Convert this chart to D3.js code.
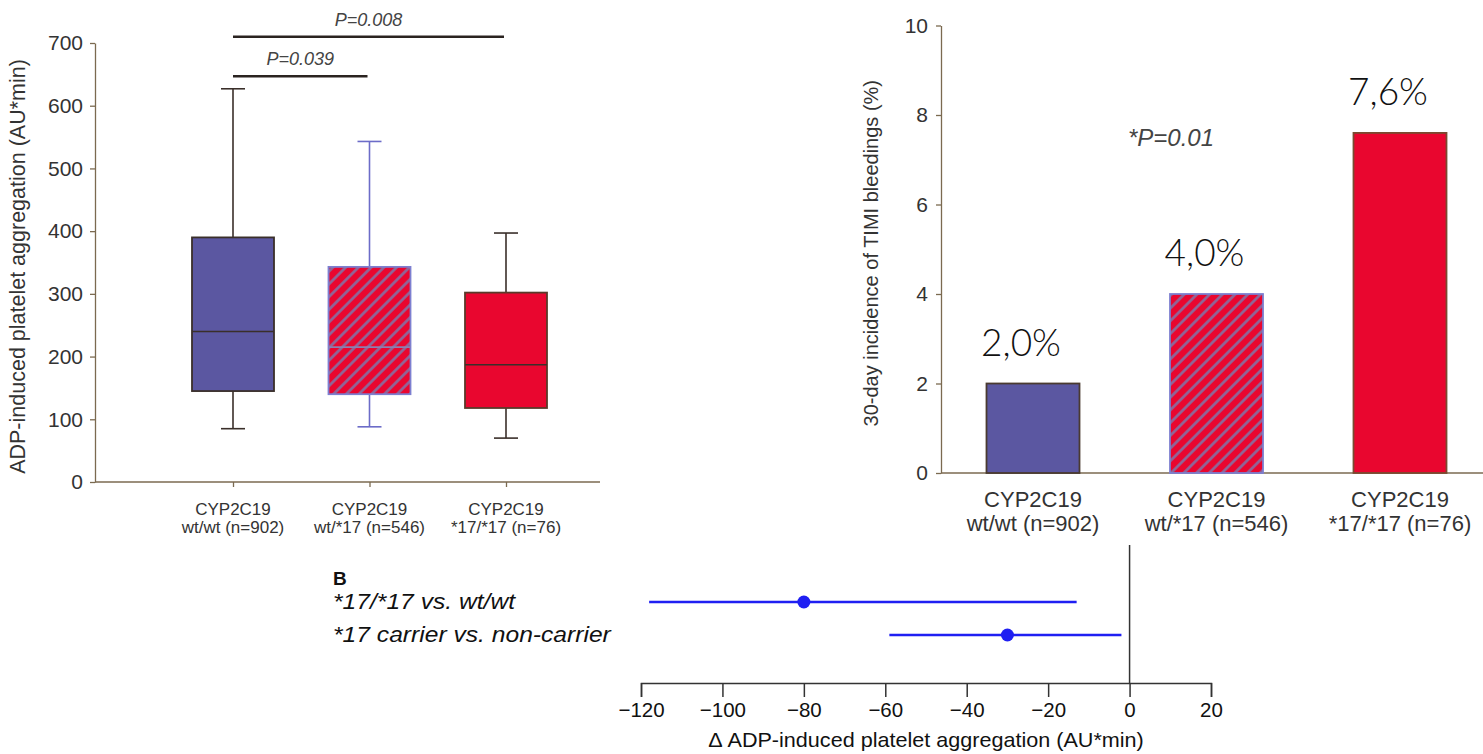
<!DOCTYPE html>
<html>
<head>
<meta charset="utf-8">
<script src="https://cdn.jsdelivr.net/npm/d3@7"></script>
<style>
  body { margin: 0; background: #fff; }
  svg { display: block; font-family: "Liberation Sans", Arial, sans-serif; }
</style>
</head>
<body>
<svg id="fig" width="1483" height="754"></svg>
<script>
// ---- data ----
const geneName = "CYP2C19";
const genotypeLabels = ["wt/wt (n=902)", "wt/*17 (n=546)", "*17/*17 (n=76)"];

// ADP-induced platelet aggregation, box plot summaries (AU*min)
const aggMin = [85, 88, 70];
const aggQ1 = [145, 140, 118];
const aggMedian = [240, 215, 187];
const aggQ3 = [390, 343, 302];
const aggMax = [627, 543, 397];
const aggTicks = [0, 100, 200, 300, 400, 500, 600, 700];

// pairwise comparisons drawn above the boxes
const sigFrom = [0, 0];
const sigTo = [1, 2];
const sigText = ["P=0.039", "P=0.008"];
const sigLevel = [647, 710];

// 30-day TIMI bleeding incidence (%)
const bleedPct = [2.0, 4.0, 7.6];
const bleedTicks = [0, 2, 4, 6, 8, 10];
const bleedPText = "*P=0.01";

// difference in ADP-induced aggregation, estimate with 95% CI
const forestRows = ["*17/*17 vs. wt/wt", "*17 carrier vs. non-carrier"];
const forestEst = [-80, -30];
const forestLow = [-118, -59];
const forestHigh = [-13, -2];
const forestTicks = [-120, -100, -80, -60, -40, -20, 0, 20];

// ---- styles ----
const BLUE = "#5b57a1";
const RED = "#e9062f";
const STRIPE = "#8a6b9e";
const AXIS = "#7b6a50";
const INK = "#333";
const DARK = "#3a2f2a";
const FOREST = "#1f1ff2";

const svg = d3.select("#fig");

// diagonal hatch for the heterozygous group
const defs = svg.append("defs");
const hatch = defs.append("pattern")
  .attr("id", "hatch")
  .attr("patternUnits", "userSpaceOnUse")
  .attr("width", 9).attr("height", 9)
  .attr("patternTransform", "rotate(45)");
hatch.append("rect").attr("width", 9).attr("height", 9).attr("fill", RED);
hatch.append("line").attr("x1", 1.5).attr("y1", 0).attr("x2", 1.5).attr("y2", 9)
  .attr("stroke", STRIPE).attr("stroke-width", 2.6);

const fills = [BLUE, "url(#hatch)", RED];
const edges = [DARK, "#7d7fd0", "#5a3a2a"];
const whiskerCol = [DARK, "#6c6cc8", DARK];
const medianCol = [DARK, "#8d7fb0", DARK];

function styleAxis(g, size) {
  g.selectAll(".domain").attr("stroke", AXIS).attr("stroke-width", 1.3);
  g.selectAll(".tick line").attr("stroke", AXIS).attr("stroke-width", 1.3);
  g.selectAll(".tick text").attr("fill", INK).attr("font-size", size)
    .attr("font-family", "'Liberation Sans', Arial, sans-serif");
}

// ================= Panel: box plot =================
const yAgg = d3.scaleLinear().domain([0, 700]).range([482, 43]);
const xAgg = d3.scalePoint().domain(d3.range(3)).range([233, 506]);
const boxW = 82, capW = 24;

const gA = svg.append("g");
gA.append("g").attr("transform", "translate(95,0)")
  .call(d3.axisLeft(yAgg).tickValues(aggTicks).tickSize(5).tickSizeOuter(0).tickPadding(7))
  .call(g => styleAxis(g, 21));
gA.append("line").attr("x1", 95).attr("x2", 600)
  .attr("y1", yAgg(0)).attr("y2", yAgg(0)).attr("stroke", AXIS).attr("stroke-width", 1.3);
gA.append("g").attr("transform", `translate(0,${yAgg(0)})`)
  .call(d3.axisBottom(xAgg).tickSize(5).tickFormat(""))
  .call(g => { g.select(".domain").remove(); styleAxis(g, 17); });

gA.append("text")
  .attr("transform", `translate(25,${(yAgg(0) + yAgg(700)) / 2 + 4}) rotate(-90)`)
  .attr("text-anchor", "middle").attr("font-size", 21.5).attr("fill", INK)
  .text("ADP-induced platelet aggregation (AU*min)");

d3.range(3).forEach(i => {
  const cx = xAgg(i);
  const g = gA.append("g");
  g.append("line").attr("x1", cx).attr("x2", cx)
    .attr("y1", yAgg(aggQ3[i])).attr("y2", yAgg(aggMax[i]))
    .attr("stroke", whiskerCol[i]).attr("stroke-width", 1.6);
  g.append("line").attr("x1", cx).attr("x2", cx)
    .attr("y1", yAgg(aggQ1[i])).attr("y2", yAgg(aggMin[i]))
    .attr("stroke", whiskerCol[i]).attr("stroke-width", 1.6);
  [aggMax[i], aggMin[i]].forEach(v => {
    g.append("line").attr("x1", cx - capW / 2).attr("x2", cx + capW / 2)
      .attr("y1", yAgg(v)).attr("y2", yAgg(v))
      .attr("stroke", whiskerCol[i]).attr("stroke-width", 1.6);
  });
  g.append("rect").attr("x", cx - boxW / 2).attr("width", boxW)
    .attr("y", yAgg(aggQ3[i])).attr("height", yAgg(aggQ1[i]) - yAgg(aggQ3[i]))
    .attr("fill", fills[i]).attr("stroke", edges[i]).attr("stroke-width", 1.8);
  g.append("line").attr("x1", cx - boxW / 2).attr("x2", cx + boxW / 2)
    .attr("y1", yAgg(aggMedian[i])).attr("y2", yAgg(aggMedian[i]))
    .attr("stroke", medianCol[i]).attr("stroke-width", 1.6);
  const t = gA.append("text").attr("text-anchor", "middle").attr("font-size", 17).attr("fill", INK);
  t.append("tspan").attr("x", cx).attr("y", 515).text(geneName);
  t.append("tspan").attr("x", cx).attr("y", 533).text(genotypeLabels[i]);
});

sigText.forEach((s, k) => {
  const x1 = xAgg(sigFrom[k]), x2 = xAgg(sigTo[k]) - 2, y = yAgg(sigLevel[k]);
  gA.append("line").attr("x1", x1).attr("x2", x2).attr("y1", y).attr("y2", y)
    .attr("stroke", "#2a2320").attr("stroke-width", 2.4);
  gA.append("text").attr("x", (x1 + x2) / 2).attr("y", y - 11)
    .attr("text-anchor", "middle").attr("font-size", 18).attr("font-style", "italic")
    .attr("fill", "#444").text(s);
});

// ================= Panel: bleeding bars =================
const yB = d3.scaleLinear().domain([0, 10]).range([473, 25.5]);
const xB = d3.scalePoint().domain(d3.range(3)).range([1033, 1400]);
const barW = 93;

const gB = svg.append("g");
gB.append("g").attr("transform", "translate(941,0)")
  .call(d3.axisLeft(yB).tickValues(bleedTicks).tickSize(5).tickSizeOuter(0).tickPadding(8))
  .call(g => styleAxis(g, 21));
gB.append("line").attr("x1", 941).attr("x2", 1483)
  .attr("y1", yB(0)).attr("y2", yB(0)).attr("stroke", AXIS).attr("stroke-width", 1.3);

gB.append("text")
  .attr("transform", `translate(878,${(yB(0) + yB(10)) / 2 + 4}) rotate(-90)`)
  .attr("text-anchor", "middle").attr("font-size", 20).attr("fill", INK)
  .text("30-day incidence of TIMI bleedings (%)");

const bEdges = ["#4a3a30", "#7d7fd0", "#7a4a30"];
d3.range(3).forEach(i => {
  const cx = xB(i);
  gB.append("rect").attr("x", cx - barW / 2).attr("width", barW)
    .attr("y", yB(bleedPct[i])).attr("height", yB(0) - yB(bleedPct[i]))
    .attr("fill", fills[i]).attr("stroke", bEdges[i]).attr("stroke-width", 1.8);
  const t = gB.append("text").attr("text-anchor", "middle").attr("font-size", 22).attr("fill", INK);
  t.append("tspan").attr("x", cx).attr("y", 507).text(geneName);
  t.append("tspan").attr("x", cx).attr("y", 531).text(genotypeLabels[i]);
  gB.append("text").attr("x", cx - 12).attr("y", yB(bleedPct[i]) - 28)
    .attr("text-anchor", "middle").attr("font-size", 37).attr("font-weight", 300)
    .attr("font-family", "Lato, 'Open Sans', sans-serif").attr("fill", "#111")
    .text(d3.format(".1f")(bleedPct[i]).replace(".", ",") + "%");
});

gB.append("text").attr("x", 1171).attr("y", 146).attr("text-anchor", "middle")
  .attr("font-size", 24).attr("font-style", "italic").attr("fill", "#444").text(bleedPText);

// ================= Panel B: forest plot =================
const xF = d3.scaleLinear().domain([-120, 20]).range([641, 1211]);
const yF = d3.scalePoint().domain(d3.range(forestRows.length)).range([602, 635]);
const axisY = 683;

const gF = svg.append("g");
gF.append("g").attr("transform", `translate(0,${axisY})`)
  .call(d3.axisBottom(xF).tickValues(forestTicks).tickSize(14).tickSizeOuter(14).tickPadding(5)
    .tickFormat(d => d < 0 ? "\u2212" + Math.abs(d) : d))
  .call(g => {
    g.selectAll(".domain, .tick line").attr("stroke", "#333").attr("stroke-width", 1.5);
    g.selectAll(".tick text").attr("fill", "#111").attr("font-size", 20.5)
      .attr("font-family", "'Liberation Sans', Arial, sans-serif");
  });
gF.append("line").attr("x1", xF(0)).attr("x2", xF(0)).attr("y1", 545).attr("y2", axisY)
  .attr("stroke", "#333").attr("stroke-width", 1.5);

gF.append("text")
  .attr("transform", `translate(${(xF(-120) + xF(20)) / 2},747) scale(1.08,1)`)
  .attr("text-anchor", "middle").attr("font-size", 20).attr("fill", "#111")
  .text("\u0394 ADP-induced platelet aggregation (AU*min)");

gF.append("text").attr("x", 333).attr("y", 585).attr("font-size", 19)
  .attr("font-weight", "bold").attr("fill", "#111").text("B");

forestRows.forEach((r, i) => {
  const y = yF(i);
  gF.append("text").attr("transform", `translate(333,${y + 7}) scale(1.12,1)`)
    .attr("font-size", 22).attr("font-style", "italic").attr("fill", "#111").text(r);
  gF.append("line").attr("x1", xF(forestLow[i])).attr("x2", xF(forestHigh[i]))
    .attr("y1", y).attr("y2", y).attr("stroke", FOREST).attr("stroke-width", 2.6);
  gF.append("circle").attr("cx", xF(forestEst[i])).attr("cy", y).attr("r", 6.5)
    .attr("fill", FOREST);
});
</script>
</body>
</html>
